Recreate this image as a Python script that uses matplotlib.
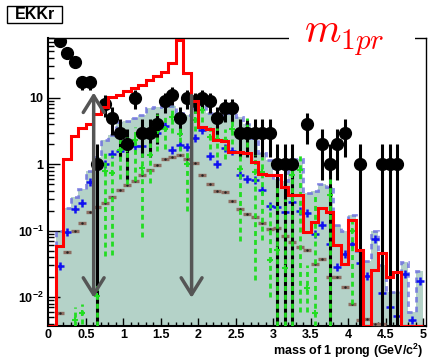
import numpy as np
import matplotlib
matplotlib.use('Agg')
import matplotlib.pyplot as plt
from matplotlib.patches import Rectangle
from matplotlib.ticker import FixedLocator, MultipleLocator, LogLocator, NullFormatter, FuncFormatter

plt.rcParams['font.family'] = 'Liberation Sans'
plt.rcParams['font.weight'] = 'bold'
plt.rcParams['mathtext.fontset'] = 'custom'
plt.rcParams['mathtext.rm'] = 'Liberation Sans:bold'
plt.rcParams['mathtext.bf'] = 'Liberation Sans:bold'
plt.rcParams['mathtext.default'] = 'rm'

nan = np.nan
edges = np.linspace(0, 5, 51)          # 50 bins of 0.1 GeV/c^2
centers = 0.5 * (edges[:-1] + edges[1:])

# data counts
data_counts = [0, 72, 48, 34, 17, 17, 1, 8, 5, 3,
               2, 10, 3, 3, 4, 9, 11, 5, 10, 9,
               10, 9, 5, 7, 7, 3, 3, 3, 3, 3,
               1, 1, 1, 0, 4, 0, 2, 1, 2, 3,
               0, 1, 0, 0, 1, 1, 1, 0, 0, 0]

# signal MC (red line)
signal_mc = [0, 0.058, 1.19, 2.7, 3.46, 3.98, 5.76, 7.2, 10.1, 11.0,
             12.5, 14.0, 15.7, 18.6, 21.0, 24.8, 33.8, 73.0, 24.0, 9.1,
             3.6, 3.4, 2.3, 2.2, 1.55, 1.53, 1.5, 1.07, 0.72, 0.7,
             0.7, 0.46, 0.34, 0.34, 0.097, 0.137, 0.217, 0.19, 0.061, 0.031,
             0.145, 0.051, 0, 0.026, 0.046, 0.02, 0.024, 0, 0, 0]

# total background MC (filled)
total_mc = [0, 0.1, 0.22, 0.32, 0.43, 0.8, 1.3, 2.3, 2.8, 4.3,
            4.5, 5.0, 5.5, 7.0, 7.2, 7.5, 7.5, 6.0, 5.5, 7.0,
            8.0, 6.0, 5.0, 5.5, 6.0, 5.1, 4.1, 2.5, 1.5, 1.15,
            0.6, 0.55, 1.0, 1.2, 0.37, 0.4, 0.5, 0.45, 0.12, 0.1,
            0.17, 0.05, 0.035, 0.1, 0.03, 0.012, 0.012, 0.034, 0.006, 0.025]

# tau MC (blue crosses)
tau_mc = [nan, 0.029, 0.097, 0.21, 0.26, 0.54, 0.91, 1.0, 1.43, 1.6,
          1.8, 1.88, 1.86, 2.63, 3.0, 3.7, 1.62, 1.93, 1.84, 2.5,
          3.3, 1.32, 1.0, 1.78, 1.58, 0.68, 0.61, 0.58, 0.41, 0.235,
          0.225, 0.19, 0.27, 0.2, 0.185, 0.09, 0.12, 0.062, 0.028, 0.044,
          0.063, 0.033, 0.021, 0.074, 0.0115, 0.007, 0.0052, 0.022, 0.0045, 0.0175]

# uds MC (brown)
uds_mc = [nan, 0.0058, 0.047, 0.10, 0.129, 0.188, 0.224, 0.257, 0.32, 0.41,
          0.48, 0.556, 0.7, 0.81, 0.98, 1.2, 1.3, 1.36, 1.2, 1.05,
          0.68, 0.51, 0.39, 0.376, 0.28, 0.215, 0.18, 0.16, 0.13, 0.105,
          0.108, 0.083, 0.068, 0.057, 0.051, 0.031, 0.038, 0.02, 0.02, 0.0143,
          0.008, 0.0045, 0.0047, 0.004, 0.0039, nan, nan, nan, nan, nan]

# charm MC (green) with its error range
charm_mc = [nan, nan, nan, 0.0046, 0.0058, nan, 0.0103, 0.8, 0.74, 1.66,
            1.72, 2.35, 0.88, 1.36, 3.2, 3.4, 5.1, 2.9, 1.02, 4.6,
            6.45, 2.6, 2.4, 2.3, 3.4, 0.86, 3.3, 0.77, 0.77, 0.036,
            0.052, 0.027, 0.68, 0.81, 0.0137, 0.0058, nan, 0.35, nan, nan,
            0.1, nan, nan, nan, nan, nan, nan, nan, nan, nan]
charm_lo = [nan, nan, nan, 0.0037, 0.004, nan, 0, 0.042, 0.043, 0.6,
            0.5, 0.55, 0.08, 0.52, 1.6, 1.7, 3.0, 1.6, 0.2, 3.2,
            4.3, 1.7, 1.3, 1.2, 2.0, 0.07, 1.8, 0.018, 0.073, 0.01,
            0, 0, 0, 0.006, 0.006, 0, nan, 0, nan, nan,
            0.008, nan, nan, nan, nan, nan, nan, nan, nan, nan]
charm_hi = [nan, nan, nan, 0.0072, 0.0078, nan, 0.015, 1.5, 1.4, 2.4,
            2.6, 3.6, 1.5, 2.1, 5.8, 5.3, 7.6, 4.1, 1.6, 6.4,
            9.1, 3.6, 3.5, 3.4, 5.0, 1.6, 5.0, 1.4, 1.3, 0.25,
            0.5, 0.3, 1.2, 1.5, 0.03, 0.35, nan, 0.6, nan, nan,
            0.16, nan, nan, nan, nan, nan, nan, nan, nan, nan]

# selection cuts
cut_low, cut_low_top = 0.605, 12.0
cut_high, cut_high_top = 1.91, 10.8
cut_bottom = 0.0098

ymin, ymax = 0.00372, 80.2

fig = plt.figure(figsize=(4.3, 3.61), dpi=100, facecolor='w')
ax = fig.add_axes([0.1123, 0.0978, 0.8777, 0.7978])
ax.set_yscale('log')

floor = ymin
tot = np.clip(np.array(total_mc), floor, None)
ax.stairs(tot, edges, baseline=floor, fill=True, color='#b4d2c8', lw=0, zorder=1)
ax.stairs(tot, edges, baseline=None, color='#6666e0', alpha=0.75, lw=2,
          ls=(0, (2, 1.5)), zorder=2)

ax.plot(centers, uds_mc, ls='none', marker='_', ms=5.5, mew=2.4, color='#8c6c60', zorder=3)
ax.plot(centers, uds_mc, ls='none', marker='.', ms=1.5, color='#222222', zorder=3)

ax.plot(centers, tau_mc, ls='none', marker='+', ms=6, mew=1.8, color='#1010f0', zorder=3)

# data with poisson errors
n = np.array(data_counts, float)
has = n > 0
err = np.sqrt(n)
ax.vlines(centers[has], np.clip(n - err, floor, None)[has], (n + err)[has],
          colors='k', lw=2.2, zorder=4)

c = np.array(charm_mc)
ok = ~np.isnan(c)
ax.vlines(centers[ok], np.clip(np.array(charm_lo), floor, None)[ok], np.array(charm_hi)[ok],
          colors='#22dd22', lw=2, linestyles=(0, (1.8, 1.4)), zorder=5)
ax.plot(centers, c, ls='none', marker='+', ms=5, mew=1.5, color='#22dd22', zorder=5)

ax.plot(centers[has], n[has], 'o', color='k', ms=8.5, zorder=6)

sig = np.clip(np.array(signal_mc), floor, None)
ax.stairs(sig, edges, baseline=None, color='red', lw=2.2, zorder=7)

arrow = dict(color='#555555', lw=2.5, shrinkA=0, shrinkB=0, mutation_scale=10)
ax.annotate('', xy=(cut_low, cut_bottom), xytext=(cut_low, cut_low_top),
            arrowprops=dict(arrowstyle='<->,head_length=1.2,head_width=0.75', **arrow), zorder=10)
ax.annotate('', xy=(cut_high, cut_bottom), xytext=(cut_high, cut_high_top),
            arrowprops=dict(arrowstyle='->,head_length=1.2,head_width=0.75', **arrow), zorder=10)

ax.set_xlim(0, 5.03)
ax.set_ylim(ymin, ymax)

ax.xaxis.set_major_locator(MultipleLocator(0.5))
ax.xaxis.set_minor_locator(MultipleLocator(0.1))
ax.xaxis.set_major_formatter(FuncFormatter(lambda v, p: '%g' % v))
ax.yaxis.set_major_locator(FixedLocator([1e-2, 1e-1, 1, 10]))
ax.yaxis.set_minor_locator(LogLocator(base=10, subs=np.arange(2, 10)))
ax.yaxis.set_minor_formatter(NullFormatter())
ax.set_yticklabels(['10$^{-2}$', '10$^{-1}$', '1', '10'])

ax.tick_params(which='both', direction='in', top=False, right=False, labelsize=9, width=1)
ax.tick_params(axis='x', which='major', length=6, pad=2.5)
ax.tick_params(axis='x', which='minor', length=3)
ax.tick_params(axis='y', which='major', length=8.5)
ax.tick_params(axis='y', which='minor', length=4.5)
for side in ['left', 'bottom']:
    ax.spines[side].set_linewidth(1.5)
for side in ['top', 'right']:
    ax.spines[side].set_linewidth(1.0)

fig.text(424 / 430, 1 - 351 / 361, 'mass of 1 prong (GeV/c$^{2}$)', fontsize=9,
         ha='right', va='center')

# title sits on the frame, so blank out that stretch of the top line
fig.add_artist(Rectangle((289 / 430, 1 - 50 / 361), 126 / 430, 22 / 361,
                         transform=fig.transFigure, fc='w', ec='none', zorder=2))
fig.text(304 / 430, 1 - 43 / 361, r'$\mathit{m}_{1\mathit{pr}}$', color='red',
         fontsize=30, math_fontfamily='cm', ha='left', va='baseline', zorder=3)

fig.add_artist(Rectangle((7 / 430, 1 - 23 / 361), 55 / 430, 17 / 361,
                         transform=fig.transFigure, fc='w', ec='k', lw=1, zorder=2))
fig.text(34.5 / 430, 1 - 14.5 / 361, 'EKKr', fontsize=11.5, ha='center', va='center', zorder=3)

fig.savefig('out.png', dpi=100)
